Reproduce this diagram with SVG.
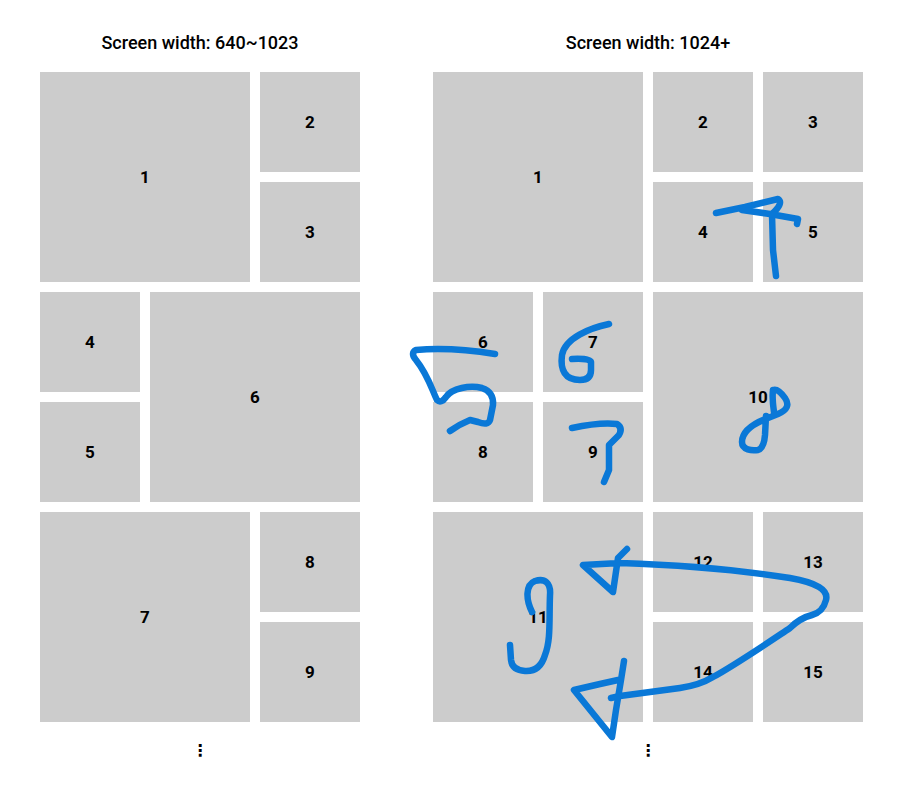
<svg xmlns="http://www.w3.org/2000/svg" width="900" height="785" viewBox="0 0 900 785">
<style>
.b{fill:#cccccc}
.n{font-family:Roboto,"Liberation Sans",sans-serif;font-weight:bold;font-size:17px;fill:#000;text-anchor:middle}
.t{font-family:Roboto,"Liberation Sans",sans-serif;font-weight:500;font-size:18px;fill:#000;text-anchor:middle}
.e{font-family:"DejaVu Sans",sans-serif;font-weight:bold;font-size:16px;fill:#000;text-anchor:middle}
.s{fill:none;stroke:#0a78d7;stroke-width:6.5;stroke-linecap:round;stroke-linejoin:round}
</style>
<rect width="900" height="785" fill="#fff"/>
<text class="t" x="200" y="49">Screen width: 640~1023</text>
<text class="t" x="648" y="49">Screen width: 1024+</text>
<g id="left">
<g id="L1"><rect class="b" x="40" y="72" width="210" height="210"/><text class="n" x="145" y="183">1</text></g>
<g id="L2"><rect class="b" x="260" y="72" width="100" height="100"/><text class="n" x="310" y="128">2</text></g>
<g id="L3"><rect class="b" x="260" y="182" width="100" height="100"/><text class="n" x="310" y="238">3</text></g>
<g id="L4"><rect class="b" x="40" y="292" width="100" height="100"/><text class="n" x="90" y="348">4</text></g>
<g id="L5"><rect class="b" x="40" y="402" width="100" height="100"/><text class="n" x="90" y="458">5</text></g>
<g id="L6"><rect class="b" x="150" y="292" width="210" height="210"/><text class="n" x="255" y="403">6</text></g>
<g id="L7"><rect class="b" x="40" y="512" width="210" height="210"/><text class="n" x="145" y="623">7</text></g>
<g id="L8"><rect class="b" x="260" y="512" width="100" height="100"/><text class="n" x="310" y="568">8</text></g>
<g id="L9"><rect class="b" x="260" y="622" width="100" height="100"/><text class="n" x="310" y="678">9</text></g>
<text class="e" x="200" y="756">⋮</text>
</g>
<g id="right">
<g id="R1"><rect class="b" x="433" y="72" width="210" height="210"/><text class="n" x="538" y="183">1</text></g>
<g id="R2"><rect class="b" x="653" y="72" width="100" height="100"/><text class="n" x="703" y="128">2</text></g>
<g id="R3"><rect class="b" x="763" y="72" width="100" height="100"/><text class="n" x="813" y="128">3</text></g>
<g id="R4"><rect class="b" x="653" y="182" width="100" height="100"/><text class="n" x="703" y="238">4</text></g>
<g id="R5"><rect class="b" x="763" y="182" width="100" height="100"/><text class="n" x="813" y="238">5</text></g>
<g id="R6"><rect class="b" x="433" y="292" width="100" height="100"/><text class="n" x="483" y="348">6</text></g>
<g id="R7"><rect class="b" x="543" y="292" width="100" height="100"/><text class="n" x="593" y="348">7</text></g>
<g id="R8"><rect class="b" x="433" y="402" width="100" height="100"/><text class="n" x="483" y="458">8</text></g>
<g id="R9"><rect class="b" x="543" y="402" width="100" height="100"/><text class="n" x="593" y="458">9</text></g>
<g id="R10"><rect class="b" x="653" y="292" width="210" height="210"/><text class="n" x="758" y="403">10</text></g>
<g id="R11"><rect class="b" x="433" y="512" width="210" height="210"/><text class="n" x="538" y="623">11</text></g>
<g id="R12"><rect class="b" x="653" y="512" width="100" height="100"/><text class="n" x="703" y="568">12</text></g>
<g id="R13"><rect class="b" x="763" y="512" width="100" height="100"/><text class="n" x="813" y="568">13</text></g>
<g id="R14"><rect class="b" x="653" y="622" width="100" height="100"/><text class="n" x="703" y="678">14</text></g>
<g id="R15"><rect class="b" x="763" y="622" width="100" height="100"/><text class="n" x="813" y="678">15</text></g>
<text class="e" x="648" y="756">⋮</text>
</g>
<g id="strokes">
<path class="s" d="M716,213 L745,207 L778,199 Q784,203 772,214 L773,250 L776,276"/>
<path class="s" d="M742,210 L770,214 L798,219 L797,224"/>
<path class="s" d="M495,354 C470,350 440,348 416,350 Q410,353 416,360 C428,375 432,390 437,400 Q441,404 446,397 C452,388 470,385 482,388 Q494,392 493,405 L490,420 Q488,426 478,422 L470,420 Q460,424 450,431"/>
<path class="s" d="M609,324 C590,328 565,338 562,355 C560,370 565,380 580,380 Q591,380 591,370 L591,362 Q590,358 572,359"/>
<path class="s" d="M572,428 Q600,422 617,424 Q623,428 619,435 L609,445 L609,470 L604,482"/>
<path class="s" d="M773,390 C772,397 773,405 774,412 M773,390 Q778,388 785,398 Q792,408 778,414 L768,418 C752,424 742,432 742,442 C742,450 752,451 758,450 Q764,448 765,435 L766,416"/>
<path class="s" d="M532,612 C526,600 525,585 535,581 C545,578 551,583 550,595 C549,620 551,640 545,655 Q540,672 525,671 Q512,670 511,660 L510,645"/>
<path class="s" d="M627,549 L618,558 L613,592 L583,565 L620,563 C680,565 740,570 790,578 Q830,585 826,600 Q823,612 812,615 Q800,618 790,628 C760,648 735,665 713,677 Q700,685 680,688 L620,696 L611,698"/>
<path class="s" d="M624,661 L621,680 L616,710 L612,737 L574,690 L600,684 L618,680"/>
</g>
</svg>
